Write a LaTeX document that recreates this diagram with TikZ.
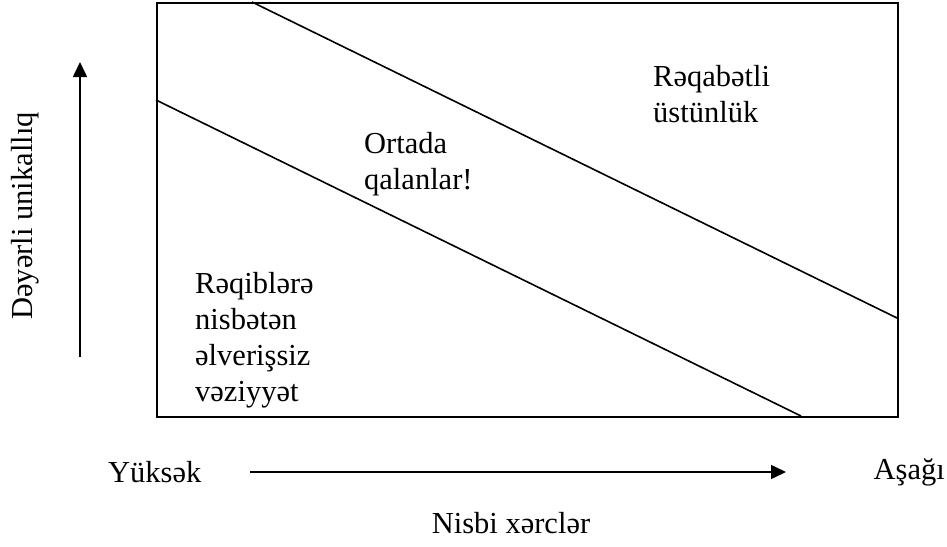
\documentclass[tikz,border=0pt]{standalone}
\usepackage{fontspec}
\setmainfont{Liberation Serif}
\usetikzlibrary{arrows.meta}
\begin{document}
\begin{tikzpicture}[x=1pt,y=-1pt,
  frameline/.style={line width=1.8pt},
  divider/.style={line width=1.6pt},
  axis/.style={line width=1.5pt,-{Triangle[length=15pt,width=14pt]}},
  label/.style={inner sep=0pt,font=\fontsize{30.5}{36}\selectfont},
  region/.style={label,align=left,anchor=north west}]
\useasboundingbox (0,0) rectangle (947,546);

% strategy frame
\node[draw,frameline,anchor=north west,inner sep=0pt,minimum width=741pt,minimum height=414pt] (frame) at (156,2) {};

% diagonal boundaries between the three zones
\coordinate (upA) at (252,2);
\coordinate (upB) at (897,318);
\coordinate (loA) at (156,100);
\coordinate (loB) at (801,416);
\draw[divider] (upA) -- (upB);
\draw[divider] (loA) -- (loB);

% zone texts
\node[region] (adv) at (653,65) {Rəqabətli\\üstünlük};
\node[region] (mid) at (364,132) {Ortada\\qalanlar!};
\node[region] (weak) at (195,272) {Rəqiblərə\\nisbətən\\əlverişsiz\\vəziyyət};

% vertical axis
\coordinate (vA) at (80,357);
\coordinate (vB) at (80,62);
\draw[axis] (vA) -- (vB);
\node[label,rotate=90] (ylab) at (25,216) {Dəyərli unikallıq};

% horizontal axis
\node[label,anchor=west] (high) at (108,472) {Yüksək};
\node[label,anchor=east] (low) at (945,472) {Aşağı};
\coordinate (hA) at (250,472);
\coordinate (hB) at (786,472);
\draw[axis] (hA) -- (hB);
\node[label,anchor=base] (xlab) at (511,533) {Nisbi xərclər};
\end{tikzpicture}
\end{document}
